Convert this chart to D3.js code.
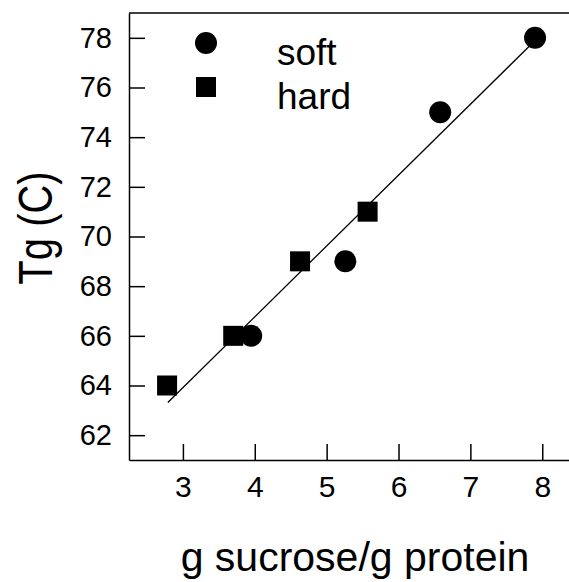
<!DOCTYPE html>
<html>
<head>
<meta charset="utf-8">
<script src="https://d3js.org/d3.v7.min.js"></script>
<style>
  body { margin: 0; background: #fff; }
  svg { display: block; font-family: "Liberation Sans", Arial, sans-serif; }
  .axis path, .axis line { stroke: #000; stroke-width: 1.5; }
  .axis text { fill: #000; }
</style>
</head>
<body>
<svg width="569" height="582"></svg>
<script>
// values
var softX = [3.95, 5.26, 6.58, 7.9];
var softY = [66, 69, 75, 78];
var hardX = [2.78, 3.7, 4.63, 5.57];
var hardY = [64, 66, 69, 71];
var xTicks = [3, 4, 5, 6, 7, 8];
var yTicks = [62, 64, 66, 68, 70, 72, 74, 76, 78];
var legendLabels = ["soft", "hard"];
var fitRange = [2.79, 7.84];

var svg = d3.select("svg"),
    margin = {top: 13, right: -2, bottom: 122, left: 129},
    width = 569 - margin.left - margin.right,
    height = 582 - margin.top - margin.bottom;

var x = d3.scaleLinear()
    .domain([2.25, 8.4])
    .range([0, width]);

var y = d3.scaleLinear()
    .domain([61, 79])
    .range([height, 0]);

var g = svg.append("g")
    .attr("transform", "translate(" + margin.left + "," + margin.top + ")");

g.append("g")
    .attr("class", "axis axis--x")
    .attr("transform", "translate(0," + height + ")")
    .call(d3.axisBottom(x).tickValues(xTicks).tickSize(-16).tickSizeOuter(0).tickPadding(16).tickFormat(d3.format("d")))
    .call(function(s) { s.selectAll("text").style("font-size", "30px"); });

g.append("g")
    .attr("class", "axis axis--y")
    .call(d3.axisLeft(y).tickValues(yTicks).tickSize(-16).tickSizeOuter(0).tickPadding(17).tickFormat(d3.format("d")))
    .call(function(s) { s.selectAll("text").style("font-size", "29px"); });

// top edge of the frame
g.append("line")
    .attr("x1", 0)
    .attr("x2", width)
    .attr("y1", 0)
    .attr("y2", 0)
    .attr("stroke", "#000")
    .attr("stroke-width", 1.5);

// least squares fit over all points
var allX = softX.concat(hardX),
    allY = softY.concat(hardY),
    mx = d3.mean(allX),
    my = d3.mean(allY),
    sxy = d3.sum(allX, function(v, i) { return (v - mx) * (allY[i] - my); }),
    sxx = d3.sum(allX, function(v) { return (v - mx) * (v - mx); }),
    slope = sxy / sxx,
    icept = my - slope * mx;

g.append("path")
    .datum(fitRange)
    .attr("fill", "none")
    .attr("stroke", "#000")
    .attr("stroke-width", 1.3)
    .attr("d", d3.line()
        .x(function(d) { return x(d); })
        .y(function(d) { return y(icept + slope * d); }));

var soft = softX.map(function(v, i) { return {x: v, y: softY[i]}; }),
    hard = hardX.map(function(v, i) { return {x: v, y: hardY[i]}; });

g.selectAll(".soft")
    .data(soft)
  .enter().append("circle")
    .attr("class", "soft")
    .attr("r", 11)
    .attr("cx", function(d) { return x(d.x); })
    .attr("cy", function(d) { return y(d.y); })
    .attr("fill", "#000");

g.selectAll(".hard")
    .data(hard)
  .enter().append("rect")
    .attr("class", "hard")
    .attr("width", 20)
    .attr("height", 20)
    .attr("x", function(d) { return x(d.x) - 10; })
    .attr("y", function(d) { return y(d.y) - 10; })
    .attr("fill", "#000");

// legend
var legend = svg.append("g")
    .attr("transform", "translate(206,43)");

legend.append("circle")
    .attr("r", 11)
    .attr("fill", "#000");

legend.append("rect")
    .attr("x", -10)
    .attr("y", 34)
    .attr("width", 20)
    .attr("height", 20)
    .attr("fill", "#000");

legend.selectAll("text")
    .data(legendLabels)
  .enter().append("text")
    .attr("x", 71)
    .attr("y", function(d, i) { return 22 + i * 44; })
    .style("font-size", "37px")
    .text(function(d) { return d; });

// axis titles
svg.append("text")
    .attr("text-anchor", "middle")
    .attr("x", 355)
    .attr("y", 571)
    .style("font-size", "41px")
    .text("g sucrose/g protein");

svg.append("text")
    .attr("text-anchor", "middle")
    .attr("transform", "translate(52,228) rotate(-90) scale(1,1.2)")
    .style("font-size", "40px")
    .text("Tg (C)");
</script>
</body>
</html>
